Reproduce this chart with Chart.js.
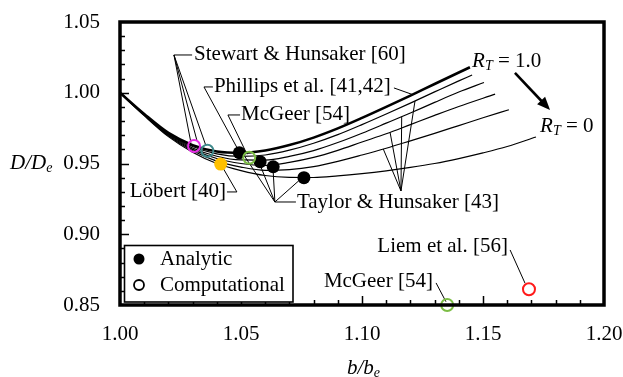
<!DOCTYPE html>
<html>
<head>
<meta charset="utf-8">
<script src="https://cdn.jsdelivr.net/npm/chart.js@4"></script>
<style>
  html, body { margin: 0; padding: 0; background: #fff; }
</style>
</head>
<body>
<canvas id="dragChart" width="623" height="377"></canvas>
<script>
// span ratio grid shared by all R_T curves
const bGrid = [1.00, 1.01, 1.02, 1.03, 1.04, 1.05, 1.06, 1.07, 1.08, 1.09, 1.10, 1.11, 1.12, 1.13, 1.14];

// D/De along bGrid for each tip ratio
const dRT10 = [1.0000, 0.9850, 0.9716, 0.9630, 0.9585, 0.9575, 0.9592, 0.9630, 0.9683, 0.9748, 0.9822, 0.9900, 0.9980, 1.0062, 1.0143];
const dRT08 = [1.0000, 0.9848, 0.9711, 0.9620, 0.9568, 0.9550, 0.9560, 0.9594, 0.9643, 0.9704, 0.9775, 0.9850, 0.9927, 1.0006, 1.0084];
const dRT06 = [1.0000, 0.9846, 0.9706, 0.9610, 0.9551, 0.9525, 0.9524, 0.9550, 0.9591, 0.9648, 0.9714, 0.9785, 0.9857, 0.9932, 1.0005];
const dRT04 = [1.0000, 0.9844, 0.9701, 0.9600, 0.9535, 0.9500, 0.9487, 0.9508, 0.9543, 0.9593, 0.9652, 0.9710, 0.9775, 0.9840, 0.9903];
const dRT02 = [1.0000, 0.9842, 0.9696, 0.9590, 0.9517, 0.9475, 0.9452, 0.9457, 0.9478, 0.9515, 0.9560, 0.9608, 0.9660, 0.9713, 0.9768];
const dRT00 = [1.0000, 0.9838, 0.9690, 0.9580, 0.9500, 0.9450, 0.9415, 0.9402, 0.9401, 0.9412, 0.9428, 0.9448, 0.9472, 0.9500, 0.9535];

// curve ends beyond the shared grid
const tailB = [[1.1446], [1.1455], [1.1504], [1.1550], [1.1500, 1.1607], [1.1500, 1.1600, 1.1719]];
const tailD = [[1.0180], [1.0125], [1.0072], [0.9990], [0.9823, 0.9880], [0.9575, 0.9620, 0.9687]];

// analytic optima (Taylor & Hunsaker, Phillips et al.)
const analyticB = [1.0493, 1.0579, 1.0633, 1.0760];
const analyticD = [0.9576, 0.9513, 0.9477, 0.9400];

// Löbert
const lobertB = [1.0416];
const lobertD = [0.9496];

// computational results: Stewart & Hunsaker (2), McGeer (2), Liem et al.
const compB = [1.0306, 1.0361, 1.0534, 1.1352, 1.1690];
const compD = [0.9624, 0.9590, 0.9541, 0.8500, 0.8611];
const compColors = ['#e62ee6', '#3f8a8c', '#7cbd45', '#7cbd45', '#ff1a1a'];

const xTicks = [1.00, 1.05, 1.10, 1.15, 1.20];
const yTicks = [0.85, 0.90, 0.95, 1.00, 1.05];

const serif = '"Liberation Serif", "Times New Roman", serif';
const fontPx = 21;

const curveSets = [dRT10, dRT08, dRT06, dRT04, dRT02, dRT00].map((d, k) => ({
  label: 'R_T curve ' + k,
  data: bGrid.concat(tailB[k]).map((b, i) => ({ x: b, y: d.concat(tailD[k])[i] })),
  showLine: true,
  borderColor: '#000',
  borderWidth: k === 0 ? 2.6 : 1.2,
  pointRadius: 0,
  cubicInterpolationMode: 'monotone',
  fill: false,
  order: 3
}));

// leader lines, in data coordinates
const leaders = [
  [[1.0298, 1.0267], [1.0223, 1.0267], [1.0293, 0.9648]],
  [[1.0223, 1.0267], [1.0318, 0.9662]],
  [[1.0223, 1.0267], [1.0355, 0.9626]],
  [[1.0384, 1.0041], [1.0347, 1.0041], [1.0492, 0.9585]],
  [[1.1132, 1.0034], [1.1211, 0.9986]],
  [[1.0496, 0.9843], [1.0446, 0.9843], [1.0525, 0.9565]],
  [[1.0442, 0.9299], [1.0483, 0.9299], [1.0421, 0.9482]],
  [[1.0727, 0.9228], [1.0640, 0.9228], [1.0517, 0.9546]],
  [[1.0640, 0.9228], [1.0574, 0.9511]],
  [[1.0640, 0.9228], [1.0632, 0.9475]],
  [[1.0640, 0.9228], [1.0752, 0.9398]],
  [[1.1161, 0.9306], [1.1219, 0.9941]],
  [[1.1161, 0.9306], [1.1164, 0.9831]],
  [[1.1161, 0.9306], [1.1116, 0.9720]],
  [[1.1161, 0.9306], [1.1088, 0.9602]],
  [[1.1306, 0.8656], [1.1347, 0.8523]],
  [[1.1612, 0.8889], [1.1674, 0.8653]]
];

// source labels: text, anchor, alignment
const notes = [
  ['Stewart & Hunsaker [60]', 1.0306, 1.0267, 'left'],
  ['Phillips et al. [41,42]', 1.0388, 1.0041, 'left'],
  ['McGeer [54]', 1.0500, 0.9843, 'left'],
  ['Löbert [40]', 1.0438, 0.9299, 'right'],
  ['Taylor & Hunsaker [43]', 1.0731, 0.9228, 'left'],
  ['Liem et al. [56]', 1.1603, 0.8917, 'right'],
  ['McGeer [54]', 1.1293, 0.8663, 'right']
];

const toPx = (chart, b, d) => [chart.scales.x.getPixelForValue(b), chart.scales.y.getPixelForValue(d)];

// italic symbol with subscript, e.g. R_T or D_e
function drawSub(ctx, x, y, base, sub, rest) {
  ctx.textAlign = 'left';
  ctx.textBaseline = 'middle';
  ctx.font = 'italic ' + fontPx + 'px ' + serif;
  ctx.fillText(base, x, y);
  x += ctx.measureText(base).width;
  ctx.font = 'italic 14px ' + serif;
  ctx.fillText(sub, x, y + 5);
  x += ctx.measureText(sub).width;
  if (rest) {
    ctx.font = fontPx + 'px ' + serif;
    ctx.fillText(rest, x, y);
  }
}

const decor = {
  id: 'decor',
  beforeDatasetsDraw(chart) {
    const ctx = chart.ctx;
    ctx.save();
    ctx.strokeStyle = '#000';
    ctx.lineWidth = 1;
    leaders.forEach(path => {
      ctx.beginPath();
      path.forEach(([b, d], i) => {
        const [x, y] = toPx(chart, b, d);
        if (i) ctx.lineTo(x, y); else ctx.moveTo(x, y);
      });
      ctx.stroke();
    });
    ctx.restore();
  },
  afterDatasetsDraw(chart) {
    const ctx = chart.ctx;
    const a = chart.chartArea;
    const sx = chart.scales.x, sy = chart.scales.y;
    ctx.save();
    ctx.fillStyle = '#000';
    ctx.strokeStyle = '#000';

    // inward ticks, 0.01 apart
    ctx.lineWidth = 1.5;
    ctx.beginPath();
    for (let i = 1; i < 20; i++) {
      const len = i % 5 === 0 ? 9 : 5;
      const x = Math.round(sx.getPixelForValue(1 + i * 0.01)) + 0.5;
      ctx.moveTo(x, a.bottom);
      ctx.lineTo(x, a.bottom - len);
      const y = Math.round(sy.getPixelForValue(0.85 + i * 0.01)) + 0.5;
      ctx.moveTo(a.left, y);
      ctx.lineTo(a.left + len, y);
    }
    ctx.stroke();

    // frame
    ctx.lineWidth = 3.5;
    ctx.strokeRect(a.left, a.top, a.right - a.left, a.bottom - a.top);

    // source labels
    ctx.font = fontPx + 'px ' + serif;
    ctx.textBaseline = 'middle';
    notes.forEach(([t, b, d, align]) => {
      const [x, y] = toPx(chart, b, d);
      ctx.textAlign = align;
      ctx.fillText(t, x, y);
    });

    // R_T labels and arrow
    let [x, y] = toPx(chart, 1.1455, 1.0224);
    drawSub(ctx, x, y, 'R', 'T', ' = 1.0');
    [x, y] = toPx(chart, 1.1736, 0.9765);
    drawSub(ctx, x, y, 'R', 'T', ' = 0');
    const [x0, y0] = toPx(chart, 1.1632, 1.0140);
    const [x1, y1] = toPx(chart, 1.1777, 0.9878);
    const ang = Math.atan2(y1 - y0, x1 - x0);
    ctx.lineWidth = 2.6;
    ctx.beginPath();
    ctx.moveTo(x0, y0);
    ctx.lineTo(x1 - 10 * Math.cos(ang), y1 - 10 * Math.sin(ang));
    ctx.stroke();
    ctx.beginPath();
    ctx.moveTo(x1, y1);
    ctx.lineTo(x1 - 13 * Math.cos(ang) + 5.5 * Math.sin(ang), y1 - 13 * Math.sin(ang) - 5.5 * Math.cos(ang));
    ctx.lineTo(x1 - 13 * Math.cos(ang) - 5.5 * Math.sin(ang), y1 - 13 * Math.sin(ang) + 5.5 * Math.cos(ang));
    ctx.closePath();
    ctx.fill();

    // legend box
    ctx.fillStyle = '#fff';
    ctx.fillRect(124.5, 245.5, 168.5, 56.5);
    ctx.lineWidth = 1.6;
    ctx.strokeRect(124.5, 245.5, 168.5, 56.5);
    ctx.fillStyle = '#000';
    ctx.beginPath();
    ctx.arc(139, 259, 5.5, 0, Math.PI * 2);
    ctx.fill();
    ctx.lineWidth = 1.8;
    ctx.beginPath();
    ctx.arc(139, 285, 5, 0, Math.PI * 2);
    ctx.stroke();
    ctx.font = fontPx + 'px ' + serif;
    ctx.textAlign = 'left';
    ctx.fillText('Analytic', 160, 259);
    ctx.fillText('Computational', 160, 285);

    // axis titles
    drawSub(ctx, 10, sy.getPixelForValue(0.95), 'D/D', 'e');
    drawSub(ctx, 347, 368, 'b/b', 'e');
    ctx.restore();
  }
};

new Chart(document.getElementById('dragChart'), {
  type: 'scatter',
  data: {
    datasets: [
      ...curveSets,
      {
        label: 'Analytic',
        data: analyticB.map((b, i) => ({ x: b, y: analyticD[i] })),
        pointRadius: 6.5,
        pointBackgroundColor: '#000',
        pointBorderColor: '#000',
        pointBorderWidth: 0,
        order: 1
      },
      {
        label: 'Löbert [40]',
        data: lobertB.map((b, i) => ({ x: b, y: lobertD[i] })),
        pointRadius: 6.5,
        pointBackgroundColor: '#ffc000',
        pointBorderColor: '#ffc000',
        pointBorderWidth: 0,
        order: 1
      },
      {
        label: 'Computational',
        data: compB.map((b, i) => ({ x: b, y: compD[i] })),
        pointRadius: 6,
        pointBackgroundColor: 'rgba(255,255,255,0)',
        pointBorderColor: compColors,
        pointBorderWidth: 2,
        clip: false,
        order: 0
      }
    ]
  },
  options: {
    responsive: false,
    animation: false,
    devicePixelRatio: 1,
    layout: { padding: { top: 22, right: 19, left: 0, bottom: 0 } },
    scales: {
      x: {
        type: 'linear',
        min: 1.0,
        max: 1.2,
        afterFit: s => {
          s.height = 72;
          s.paddingLeft = 0;
          s.paddingRight = 0;
        },
        afterBuildTicks: s => { s.ticks = xTicks.map(v => ({ value: v })); },
        grid: { display: false, drawTicks: false },
        border: { display: false },
        ticks: {
          padding: 17,
          color: '#000',
          maxRotation: 0,
          autoSkip: false,
          font: { family: serif, size: fontPx },
          callback: v => v.toFixed(2)
        }
      },
      y: {
        type: 'linear',
        min: 0.85,
        max: 1.05,
        afterFit: s => {
          s.width = 120;
          s.paddingTop = 0;
          s.paddingBottom = 0;
        },
        afterBuildTicks: s => { s.ticks = yTicks.map(v => ({ value: v })); },
        grid: { display: false, drawTicks: false },
        border: { display: false },
        ticks: {
          padding: 20,
          color: '#000',
          autoSkip: false,
          font: { family: serif, size: fontPx },
          callback: v => v.toFixed(2)
        }
      }
    },
    plugins: {
      legend: { display: false },
      tooltip: { enabled: false }
    }
  },
  plugins: [decor]
});
</script>
</body>
</html>
